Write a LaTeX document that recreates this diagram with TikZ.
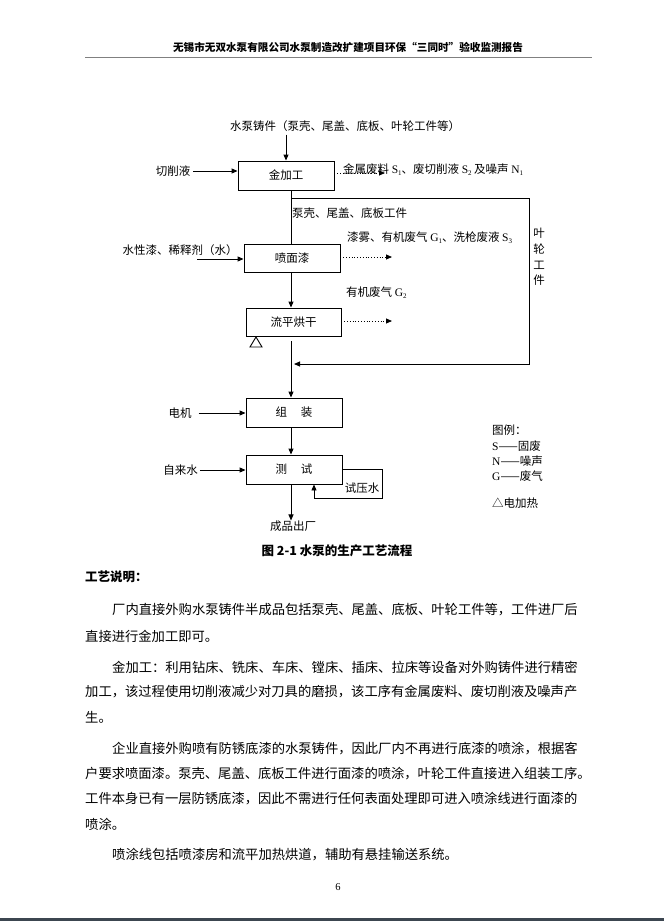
\documentclass[tikz,border=0pt]{standalone}
\usepackage{fontspec}
\setmainfont{Noto Sans CJK SC}
\newfontfamily\tm{Liberation Serif}
\usetikzlibrary{arrows.meta}
\XeTeXlinebreaklocale "zh"
\XeTeXlinebreakskip=0pt plus 1pt
\newcommand\dg{\fontsize{11.5}{13}\selectfont}
\newcommand\dgv{\fontsize{11.5}{15.8}\selectfont}
\newcommand\bd{\fontsize{13.3}{16}\selectfont}
\newcommand\lsub[2]{{\tm #1\raisebox{-0.4ex}{\fontsize{7}{7}\selectfont #2}}}
\begin{document}
\begin{tikzpicture}[x=1pt,y=-1pt,
  box/.style={draw, line width=0.9pt, minimum width=96pt, minimum height=29pt, inner sep=0pt, font=\dg},
  lbl/.style={inner sep=0pt, font=\dg},
  arr/.style={line width=0.9pt, -{Triangle[length=6pt,width=5pt]}},
  ln/.style={line width=0.9pt},
  darr/.style={line width=0.8pt, dotted, -{Triangle[length=6pt,width=5pt]}},
  bl/.style={anchor=west, inner sep=0pt, font=\bd, align=justify},
  bln/.style={anchor=west, inner sep=0pt, font=\bd},
  hd/.style={inner sep=0pt, font=\fontsize{12.5}{15}\selectfont\bfseries}]
\useasboundingbox (0,0) rectangle (664,921);
% header
\node[inner sep=0pt, font=\fontsize{10.6}{12}\selectfont\bfseries] (head) at (348,47) {无锡市无双水泵有限公司水泵制造改扩建项目环保“三同时”验收监测报告};
\draw[line width=1pt, gray] (85,57) -- (592,57);
% flow chart
\coordinate (fx) at (291,0);
\node[lbl] (src) at (345,126) {水泵铸件（泵壳、尾盖、底板、叶轮工件等）};
\node[box] (jin) at (286,175.5) {金加工};
\node[box, minimum height=28pt] (pen) at (292,258) {喷面漆};
\node[box, minimum width=95pt, minimum height=28pt] (liu) at (293.5,322) {流平烘干};
\node[box] (zu) at (294,412.5) {组\hspace{1.2em}装};
\node[box] (ce) at (294,469.5) {测\hspace{1.2em}试};
\node[lbl] (qx) at (173,171) {切削液};
\node[lbl] (sx) at (180,250) {水性漆、稀释剂（水）};
\node[lbl] (dj) at (180,413) {电机};
\node[lbl] (zl) at (180.5,470) {自来水};
\node[lbl] (out) at (293,526) {成品出厂};
\node[lbl, anchor=west] (w1) at (343,170) {金属废料 \lsub{S}{1}、废切削液 \lsub{S}{2} 及噪声 \lsub{N}{1}};
\node[lbl, anchor=west] (w2) at (347,238) {漆雾、有机废气 \lsub{G}{1}、洗枪废液 \lsub{S}{3}};
\node[lbl, anchor=west] (w3) at (346,293) {有机废气 \lsub{G}{2}};
\node[lbl, anchor=west] (bk) at (292,213) {泵壳、尾盖、底板工件};
\node[lbl, align=center, font=\dgv] (yl) at (539,257) {叶\\轮\\工\\件};
\node[lbl] (syl) at (362,488) {试压水};
% legend
\node[lbl, anchor=west] (lg0) at (492,430) {图例：};
\node[lbl, anchor=west] (lg1) at (492,446) {{\tm S}——固废};
\node[lbl, anchor=west] (lg2) at (492,461) {{\tm N}——噪声};
\node[lbl, anchor=west] (lg3) at (492,476) {{\tm G}——废气};
\node[lbl, anchor=west] (lg4) at (492,503) {△电加热};
% connectors
\coordinate (jd) at (385,173);
\coordinate (pd) at (392,257);
\coordinate (ld) at (392,321);
\coordinate (br) at (291,198);
\coordinate (rt) at (529,198);
\coordinate (rb) at (529,364);
\coordinate (sxa) at (197,259);
\coordinate (lp) at (382,498);
\coordinate (lpx) at (314,0);
\draw[arr] (jin.north |- src.south) ++(0,3) -- (jin.north);
\draw[arr] (qx.east) ++(3,0) -- (jin.west |- qx.east);
\draw[darr] (jin.east |- jd) -- (jd);
\draw[ln] (jin.south -| fx) -- (pen.north -| fx);
\draw[arr, shorten >=3pt] (br) -- (rt) -- (rb) -- (fx |- rb);
\draw[arr] (sxa) -- (sxa -| pen.west);
\draw[darr] (pen.east |- pd) -- (pd);
\draw[arr] (pen.south -| fx) -- (liu.north -| fx);
\draw[darr] (liu.east |- ld) -- (ld);
\draw[ln] (250,347) -- (262,347) -- (256,337) -- cycle;
\draw[arr, shorten <=5pt] (liu.south -| fx) -- (zu.north -| fx);
\draw[arr] (dj.east) ++(7,0) -- (zu.west |- dj.east);
\draw[arr] (zu.south -| fx) -- (ce.north -| fx);
\draw[arr] (zl.east) ++(2,0) -- (ce.west |- zl.east);
\draw[arr] (ce.east) -| (lp) -| (ce.south -| lpx);
\draw[arr] (ce.south -| fx) -- (out.north -| fx);
% caption and text
\node[hd] (cap) at (337,551) {图 2-1 水泵的生产工艺流程};
\node[hd, anchor=west] (gy) at (85,577) {工艺说明：};
\node[bl, text width=473pt] (l1) at (112,610) {\parfillskip=0pt 厂内直接外购水泵铸件半成品包括泵壳、尾盖、底板、叶轮工件等，工件进厂后};
\node[bln] (l2) at (85,636) {直接进行金加工即可。};
\node[bl, text width=473pt] (l3) at (112,667) {\parfillskip=0pt 金加工：利用钻床、铣床、车床、镗床、插床、拉床等设备对外购铸件进行精密};
\node[bl, text width=500pt] (l4) at (85,692) {\parfillskip=0pt 加工，该过程使用切削液减少对刀具的磨损，该工序有金属废料、废切削液及噪声产};
\node[bln] (l5) at (85,717) {生。};
\node[bl, text width=473pt] (l6) at (112,749) {\parfillskip=0pt 企业直接外购喷有防锈底漆的水泵铸件，因此厂内不再进行底漆的喷涂，根据客};
\node[bln] (l7) at (85,774) {户要求喷面漆。泵壳、尾盖、底板工件进行面漆的喷涂，叶轮工件直接进入组装工序。};
\node[bl, text width=500pt] (l8) at (85,799) {\parfillskip=0pt 工件本身已有一层防锈底漆，因此不需进行任何表面处理即可进入喷涂线进行面漆的};
\node[bln] (l9) at (85,824) {喷涂。};
\node[bln] (l10) at (112,855) {喷涂线包括喷漆房和流平加热烘道，辅助有悬挂输送系统。};
\node[inner sep=0pt, font=\tm\fontsize{10.5}{12}\selectfont] (pg) at (338,887) {6};
\draw[line width=2.5pt, color={rgb,255:red,60;green,70;blue,80}] (0,919.7) -- (664,919.7);
\end{tikzpicture}
\end{document}
